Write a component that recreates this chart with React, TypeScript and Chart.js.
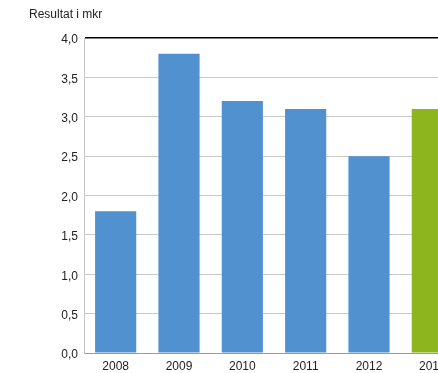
import React, { useEffect, useRef } from "react";
import { Chart, registerables } from "chart.js";

Chart.register(...registerables);

const categories = ["2008", "2009", "2010", "2011", "2012", "2013"];
const values = [1.8, 3.8, 3.2, 3.1, 2.5, 3.1];
const barColors = ["#5291cf", "#5291cf", "#5291cf", "#5291cf", "#5291cf", "#8db51e"];
const yTicks = [0, 0.5, 1, 1.5, 2, 2.5, 3, 3.5, 4];
const titleText = "Resultat i mkr";

const FONT = "'Liberation Sans', Arial, sans-serif";

export default function App() {
  const ref = useRef<HTMLCanvasElement | null>(null);
  useEffect(() => {
    if (!ref.current) return;
    const titlePlugin = {
      id: "customTitle",
      afterDraw(chart: any) {
        const ctx = chart.ctx;
        ctx.save();
        ctx.font = `12px ${FONT}`;
        ctx.fillStyle = "#222";
        ctx.textAlign = "left";
        ctx.textBaseline = "middle";
        ctx.fillText(titleText, 29, 15);
        ctx.restore();
      },
    };
    const chart = new Chart(ref.current, {
      type: "bar",
      data: {
        labels: categories,
        datasets: [
          {
            data: values,
            backgroundColor: barColors,
            borderWidth: 0,
            categoryPercentage: 0.65,
            barPercentage: 1,
          },
        ],
      },
      options: {
        responsive: false,
        animation: false,
        layout: { padding: { top: 38, right: 6, left: 0, bottom: 0 } },
        plugins: { legend: { display: false }, tooltip: { enabled: false }, title: { display: false } },
        scales: {
          x: {
            grid: { display: false, drawTicks: false },
            border: { display: true, color: "#9a9a9a", width: 1 },
            ticks: { color: "#222", font: { family: FONT, size: 12 }, padding: 6, maxRotation: 0 },
            afterFit: (s: any) => {
              s.height = 20;
            },
          },
          y: {
            min: 0,
            max: 4,
            afterBuildTicks: (s: any) => {
              s.ticks = yTicks.map((v) => ({ value: v }));
            },
            grid: {
              drawTicks: false,
              color: (c: any) => (c.tick && c.tick.value === 4 ? "#000" : c.tick && c.tick.value === 0 ? "#9a9a9a" : "#c8c8c8"),
              lineWidth: (c: any) => (c.tick && c.tick.value === 4 ? 1.5 : 1),
            },
            border: { display: true, color: "#c8c8c8", width: 1 },
            ticks: {
              color: "#222",
              font: { family: FONT, size: 12 },
              padding: 6,
              labelOffset: 2,
              callback: (v: any) => Number(v).toFixed(1).replace(".", ","),
            },
            afterFit: (s: any) => {
              s.width = 84;
            },
          },
        },
      },
      plugins: [titlePlugin],
    });
    return () => chart.destroy();
  }, []);
  return (
    <div style={{ position: "fixed", left: 0, top: 0, width: 438, height: 373, overflow: "hidden", background: "#fff" }}>
      <canvas ref={ref} width={470} height={373} style={{ display: "block", width: 470, height: 373 }} />
    </div>
  );
}
